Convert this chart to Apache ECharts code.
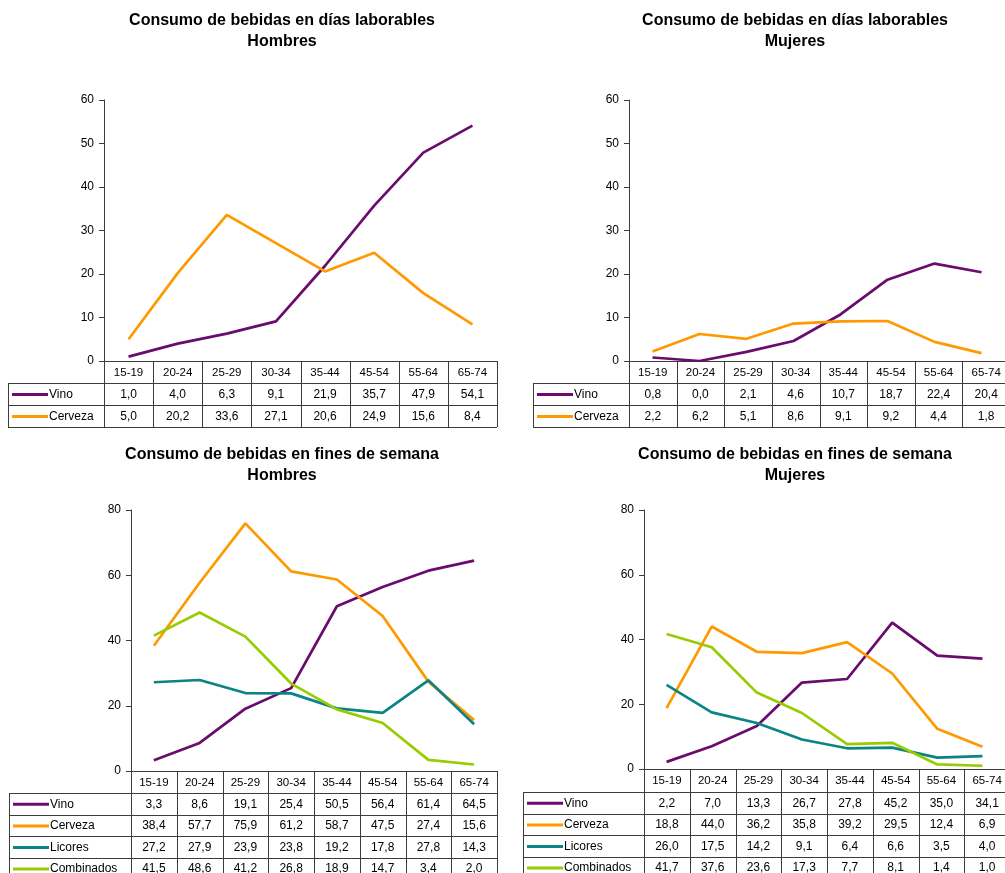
<!DOCTYPE html>
<html>
<head>
<meta charset="utf-8">
<script src="https://cdn.jsdelivr.net/npm/echarts@6/dist/echarts.min.js"></script>
<style>
  html, body { margin: 0; padding: 0; background: #ffffff; }
  #chart { width: 1005px; height: 873px; }
</style>
</head>
<body>
<div id="chart"></div>
<script>
// Age groups (shared category axis / table header)
const ageGroups = ['15-19', '20-24', '25-29', '30-34', '35-44', '45-54', '55-64', '65-74'];

// Working days, men
const vinoLabHombres    = [1.0, 4.0, 6.3, 9.1, 21.9, 35.7, 47.9, 54.1];
const cervezaLabHombres = [5.0, 20.2, 33.6, 27.1, 20.6, 24.9, 15.6, 8.4];

// Working days, women
const vinoLabMujeres    = [0.8, 0.0, 2.1, 4.6, 10.7, 18.7, 22.4, 20.4];
const cervezaLabMujeres = [2.2, 6.2, 5.1, 8.6, 9.1, 9.2, 4.4, 1.8];

// Weekends, men
const vinoFinHombres       = [3.3, 8.6, 19.1, 25.4, 50.5, 56.4, 61.4, 64.5];
const cervezaFinHombres    = [38.4, 57.7, 75.9, 61.2, 58.7, 47.5, 27.4, 15.6];
const licoresFinHombres    = [27.2, 27.9, 23.9, 23.8, 19.2, 17.8, 27.8, 14.3];
const combinadosFinHombres = [41.5, 48.6, 41.2, 26.8, 18.9, 14.7, 3.4, 2.0];

// Weekends, women
const vinoFinMujeres       = [2.2, 7.0, 13.3, 26.7, 27.8, 45.2, 35.0, 34.1];
const cervezaFinMujeres    = [18.8, 44.0, 36.2, 35.8, 39.2, 29.5, 12.4, 6.9];
const licoresFinMujeres    = [26.0, 17.5, 14.2, 9.1, 6.4, 6.6, 3.5, 4.0];
const combinadosFinMujeres = [41.7, 37.6, 23.6, 17.3, 7.7, 8.1, 1.4, 1.0];

const FONT_FAMILY = '"Liberation Sans", Arial, Helvetica, sans-serif';
const SERIES_COLORS = {
  Vino: '#6a0b6e',
  Cerveza: '#ff9900',
  Licores: '#0a8484',
  Combinados: '#99cc00'
};
const BORDER = '#3c3c3c';

// Panel layout: plot area, y scale and the data table underneath
const panels = [
  {
    title: 'Consumo de bebidas en días laborables', subtitle: 'Hombres',
    titleX: 282, titleY: 21,
    grid: { left: 104, top: 100, width: 393, height: 261 },
    yMax: 60, yStep: 10,
    tableLeft: 8, headerH: 22, rowH: 22,
    rows: [['Vino', vinoLabHombres], ['Cerveza', cervezaLabHombres]]
  },
  {
    title: 'Consumo de bebidas en días laborables', subtitle: 'Mujeres',
    titleX: 795, titleY: 21,
    grid: { left: 629, top: 100, width: 381, height: 261 },
    yMax: 60, yStep: 10,
    tableLeft: 533, headerH: 22, rowH: 22,
    rows: [['Vino', vinoLabMujeres], ['Cerveza', cervezaLabMujeres]]
  },
  {
    title: 'Consumo de bebidas en fines de semana', subtitle: 'Hombres',
    titleX: 282, titleY: 455,
    grid: { left: 131, top: 510, width: 366, height: 261 },
    yMax: 80, yStep: 20,
    tableLeft: 9, headerH: 22, rowH: 21.6,
    rows: [['Vino', vinoFinHombres], ['Cerveza', cervezaFinHombres],
           ['Licores', licoresFinHombres], ['Combinados', combinadosFinHombres]]
  },
  {
    title: 'Consumo de bebidas en fines de semana', subtitle: 'Mujeres',
    titleX: 795, titleY: 455,
    grid: { left: 644, top: 510, width: 366, height: 259 },
    yMax: 80, yStep: 20,
    tableLeft: 523, headerH: 23, rowH: 21.6,
    rows: [['Vino', vinoFinMujeres], ['Cerveza', cervezaFinMujeres],
           ['Licores', licoresFinMujeres], ['Combinados', combinadosFinMujeres]]
  }
];

const fmt = v => v.toFixed(1).replace('.', ',');

function hLine(x1, x2, y, color, w) {
  return { type: 'line', silent: true, z: 10,
    shape: { x1: x1, y1: y, x2: x2, y2: y },
    style: { stroke: color || BORDER, lineWidth: w || 1 } };
}
function vLine(x, y1, y2, color, w) {
  return { type: 'line', silent: true, z: 10,
    shape: { x1: x, y1: y1, x2: x, y2: y2 },
    style: { stroke: color || BORDER, lineWidth: w || 1 } };
}
function label(text, x, y, align, size, weight) {
  return { type: 'text', silent: true, z: 11,
    style: { text: text, x: x, y: y,
      textAlign: align, align: align,
      textVerticalAlign: 'middle', verticalAlign: 'middle',
      font: (weight || 'normal') + ' ' + size + 'px ' + FONT_FAMILY,
      fill: '#000000' } };
}

// Title text and the data table drawn under each plot area
function panelGraphics(p) {
  const els = [];
  els.push(label(p.title, p.titleX, p.titleY, 'center', 16, 'bold'));
  els.push(label(p.subtitle, p.titleX, p.titleY + 20.5, 'center', 16, 'bold'));

  const g = p.grid;
  const colW = g.width / ageGroups.length;
  const yAxis0 = g.top + g.height;
  const headerBottom = yAxis0 + p.headerH;
  const tableBottom = headerBottom + p.rowH * p.rows.length;
  const right = g.left + g.width;

  // header row: column separators and age group labels
  for (let i = 0; i <= ageGroups.length; i++) {
    els.push(vLine(Math.round(g.left + i * colW) + 0.5, yAxis0, tableBottom));
  }
  ageGroups.forEach((a, i) => {
    els.push(label(a, g.left + (i + 0.5) * colW, yAxis0 + p.headerH / 2 + 0.5, 'center', 11.5));
  });

  // body rows
  els.push(vLine(p.tableLeft + 0.5, headerBottom, tableBottom));
  for (let r = 0; r <= p.rows.length; r++) {
    els.push(hLine(p.tableLeft, right, Math.round(headerBottom + r * p.rowH) + 0.5));
  }
  p.rows.forEach((row, r) => {
    const name = row[0], values = row[1];
    const cy = headerBottom + (r + 0.5) * p.rowH + 0.5;
    els.push({ type: 'line', silent: true, z: 11,
      shape: { x1: p.tableLeft + 4, y1: cy, x2: p.tableLeft + 40, y2: cy },
      style: { stroke: SERIES_COLORS[name], lineWidth: 3 } });
    els.push(label(name, p.tableLeft + 41, cy, 'left', 12));
    values.forEach((v, i) => {
      els.push(label(fmt(v), g.left + (i + 0.5) * colW, cy, 'center', 12));
    });
  });
  return els;
}

const grids = [], xAxes = [], yAxes = [], series = [];
let graphics = [];
panels.forEach((p, k) => {
  grids.push(Object.assign({ containLabel: false }, p.grid));
  xAxes.push({
    type: 'category', gridIndex: k, data: ageGroups, boundaryGap: true,
    axisLine: { show: true, lineStyle: { color: BORDER, width: 1 } },
    axisTick: { show: false }, axisLabel: { show: false }, splitLine: { show: false }
  });
  yAxes.push({
    type: 'value', gridIndex: k, min: 0, max: p.yMax, interval: p.yStep,
    axisLine: { show: true, lineStyle: { color: BORDER, width: 1 } },
    axisTick: { show: true, length: 5, lineStyle: { color: BORDER } },
    axisLabel: { show: true, margin: 10, fontSize: 12, color: '#000', fontFamily: FONT_FAMILY },
    splitLine: { show: false }
  });
  p.rows.forEach(row => {
    series.push({
      type: 'line', name: row[0], xAxisIndex: k, yAxisIndex: k,
      data: row[1], symbol: 'none', smooth: false, animation: false,
      lineStyle: { color: SERIES_COLORS[row[0]], width: 2.7 },
      itemStyle: { color: SERIES_COLORS[row[0]] }
    });
  });
  graphics = graphics.concat(panelGraphics(p));
});

const chart = echarts.init(document.getElementById('chart'), null, { renderer: 'canvas' });
chart.setOption({
  backgroundColor: '#ffffff',
  animation: false,
  textStyle: { fontFamily: FONT_FAMILY },
  grid: grids,
  xAxis: xAxes,
  yAxis: yAxes,
  series: series,
  graphic: { elements: graphics }
});
</script>
</body>
</html>
